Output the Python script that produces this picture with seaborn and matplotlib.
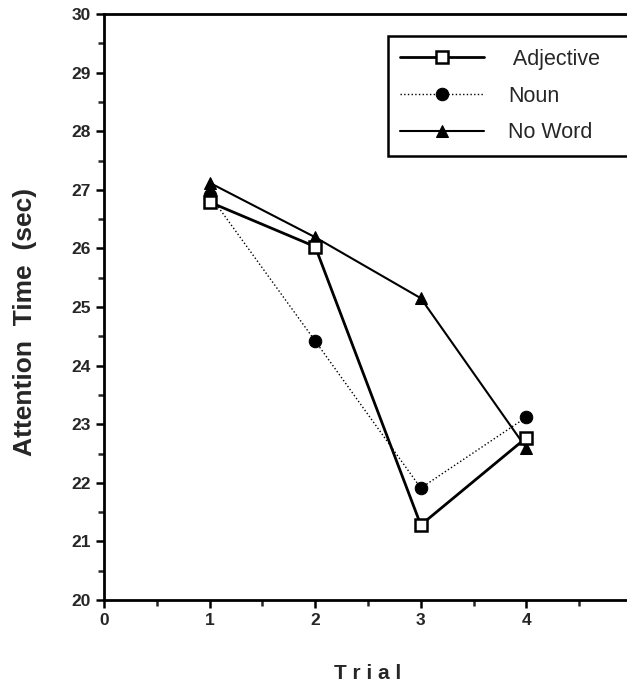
import matplotlib
matplotlib.use("Agg")
import matplotlib.pyplot as plt
import pandas as pd
import seaborn as sns

# values
trials = [1, 2, 3, 4]
adjective = [26.79, 26.03, 21.28, 22.77]
noun = [26.91, 24.42, 21.91, 23.12]
no_word = [27.12, 26.19, 25.15, 22.59]

sns.set_style("ticks")
plt.rcParams['font.family'] = ['Liberation Sans', 'DejaVu Sans']

df = pd.DataFrame({"trial": trials * 3,
                   "time": adjective + noun + no_word,
                   "cond": ["Adjective"] * 4 + ["Noun"] * 4 + ["No Word"] * 4})

fig = plt.figure(figsize=(6.27, 6.85), dpi=100)
ax = fig.add_axes([104 / 627, 85 / 685, 528 / 627, 586 / 685])

sns.lineplot(data=df[df.cond == "Adjective"], x="trial", y="time", ax=ax,
             color="black", lw=2.0, marker="s", markersize=8,
             markerfacecolor="white", markeredgecolor="black", markeredgewidth=1.8,
             label=" Adjective", zorder=4)
sns.lineplot(data=df[df.cond == "Noun"], x="trial", y="time", ax=ax,
             color="black", lw=1.0, ls=":", marker="o", markersize=9,
             markerfacecolor="black", markeredgecolor="black",
             label="Noun", zorder=3)
sns.lineplot(data=df[df.cond == "No Word"], x="trial", y="time", ax=ax,
             color="black", lw=1.5, marker="^", markersize=8,
             markerfacecolor="black", markeredgecolor="black",
             label="No Word", zorder=2)

ax.set_xlim(0, 5)
ax.set_ylim(20, 30)
ax.set_xticks(range(0, 6))
ax.set_yticks(range(20, 31))
ax.set_xticks([i + 0.5 for i in range(5)], minor=True)
ax.set_yticks([20.5 + i for i in range(10)], minor=True)
ax.tick_params(axis="both", which="major", direction="out", length=6, width=1.8,
               labelsize=12.5, color="black")
ax.tick_params(axis="both", which="minor", direction="out", length=4, width=1.8)
for lab in ax.get_xticklabels() + ax.get_yticklabels():
    lab.set_fontweight("bold")

for side in ["left", "bottom", "top", "right"]:
    ax.spines[side].set_linewidth(2.0)
    ax.spines[side].set_color("black")

ax.set_xlabel("T r i a l", fontsize=15, fontweight="bold", labelpad=26)
ax.set_ylabel("Attention  Time  (sec)", fontsize=19, fontweight="bold")
ax.yaxis.set_label_coords(-0.126, 0.474)

leg = ax.legend(loc="upper left", bbox_to_anchor=(0.537, 0.758, 0.5, 0.205),
                mode="expand", fontsize=15.5, handlelength=3.9, handletextpad=1.1,
                labelspacing=0.74, borderpad=0.6, borderaxespad=0,
                fancybox=False, frameon=True, framealpha=1, edgecolor="black")
leg.get_frame().set_linewidth(1.8)

fig.savefig("out.png", dpi=100)
